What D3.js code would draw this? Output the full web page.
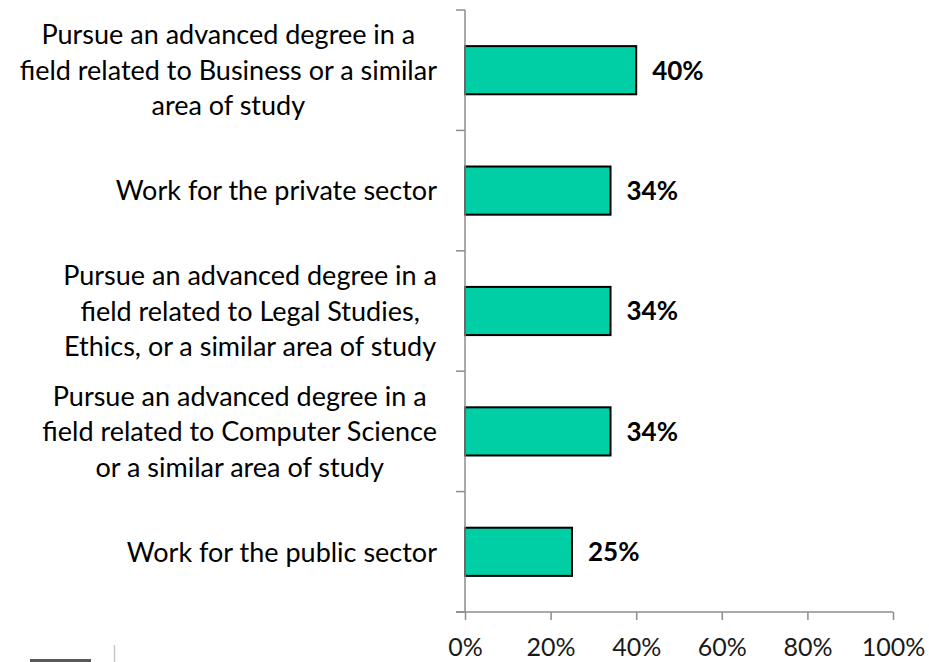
<!DOCTYPE html>
<html>
<head>
<meta charset="utf-8">
<script src="https://cdn.jsdelivr.net/npm/d3@7"></script>
<style>
  html, body { margin: 0; padding: 0; background: #fff; }
  svg { display: block; }
  text { font-family: Lato, "Open Sans", sans-serif; }
</style>
</head>
<body>
<svg id="chart" width="929" height="662"></svg>
<script>
// Category labels, already broken into lines
const categoryLines = [
  ["Pursue an advanced degree in a", "field related to Business or a similar", "area of study"],
  ["Work for the private sector"],
  ["Pursue an advanced degree in a", "field related to Legal Studies,", "Ethics, or a similar area of study"],
  ["Pursue an advanced degree in a", "field related to Computer Science", "or a similar area of study"],
  ["Work for the public sector"]
];
const categories = categoryLines.map(l => l.join(" "));
const values = [40, 34, 34, 34, 25];
const xTicks = [0, 20, 40, 60, 80, 100];

const svg = d3.select("#chart");
const plotLeft = 465, plotRight = 893, plotTop = 10, plotBottom = 612;
const axisColor = "#8c8c8c";
const labelSize = 27;
const valueSize = 26;
const tickSize = 25;

const x = d3.scaleLinear().domain([0, 100]).range([plotLeft, plotRight]);
const y = d3.scaleBand().domain(categories).range([plotTop, plotBottom])
  .paddingInner(0.6).paddingOuter(0.3);

// Bars
svg.append("g").selectAll("rect")
  .data(values)
  .join("rect")
  .attr("x", x(0))
  .attr("y", (d, i) => y(categories[i]))
  .attr("width", d => x(d) - x(0))
  .attr("height", y.bandwidth())
  .attr("fill", "#00cfa6")
  .attr("stroke", "#000")
  .attr("stroke-width", 2);

// Value labels
svg.append("g").selectAll("text")
  .data(values)
  .join("text")
  .attr("x", d => x(d) + 16)
  .attr("y", (d, i) => y(categories[i]) + y.bandwidth() / 2)
  .attr("dy", "0.36em")
  .attr("font-size", valueSize)
  .attr("font-weight", "bold")
  .attr("fill", "#000")
  .text(d => d + "%");

// Vertical axis with ticks on the category boundaries
const axisG = svg.append("g").attr("stroke", axisColor).attr("stroke-width", 1.5);
axisG.append("line").attr("x1", plotLeft).attr("x2", plotLeft).attr("y1", plotTop).attr("y2", plotBottom);
const step = y.step();
const boundaries = d3.range(categories.length + 1).map(i => plotTop + i * step);
axisG.selectAll("line.ytick")
  .data(boundaries)
  .join("line")
  .attr("class", "ytick")
  .attr("x1", plotLeft - 9).attr("x2", plotLeft)
  .attr("y1", d => d).attr("y2", d => d);

// Horizontal axis
const xAxis = d3.axisBottom(x).tickValues(xTicks).tickSize(8).tickSizeOuter(0)
  .tickFormat(d => d + "%");
const xg = svg.append("g").attr("transform", `translate(0,${plotBottom})`).call(xAxis);
xg.select(".domain").remove();
xg.selectAll(".tick line").attr("stroke", axisColor).attr("stroke-width", 1.5);
xg.selectAll(".tick text")
  .attr("font-size", tickSize)
  .attr("font-family", "Lato, sans-serif")
  .attr("fill", "#1a1a1a")
  .attr("y", 0).attr("dy", 0)
  .attr("transform", "translate(0,44)");
axisG.append("line").attr("x1", plotLeft - 9).attr("x2", plotRight).attr("y1", plotBottom).attr("y2", plotBottom);

// Category labels: lines centred within a block aligned to the axis
const labelRight = 437;
const lineGap = 35.5;
const labelG = svg.append("g");
categoryLines.forEach((lines, i) => {
  const cy = y(categories[i]) + y.bandwidth() / 2;
  const t = labelG.append("text")
    .attr("font-size", labelSize)
    .attr("fill", "#000")
    .attr("text-anchor", "middle");
  const spans = lines.map((ln, j) => t.append("tspan")
    .attr("y", cy + (j - (lines.length - 1) / 2) * lineGap)
    .attr("dy", "0.36em")
    .text(ln));
  const maxW = d3.max(spans, s => s.node().getComputedTextLength());
  spans.forEach(s => s.attr("x", labelRight - maxW / 2));
});

// Small marks along the bottom edge
svg.append("line").attr("x1", 30).attr("x2", 91).attr("y1", 660.5).attr("y2", 660.5)
  .attr("stroke", "#595959").attr("stroke-width", 3);
svg.append("line").attr("x1", 114.5).attr("x2", 114.5).attr("y1", 645).attr("y2", 662)
  .attr("stroke", "#c8c8c8").attr("stroke-width", 1.5);
</script>
</body>
</html>
